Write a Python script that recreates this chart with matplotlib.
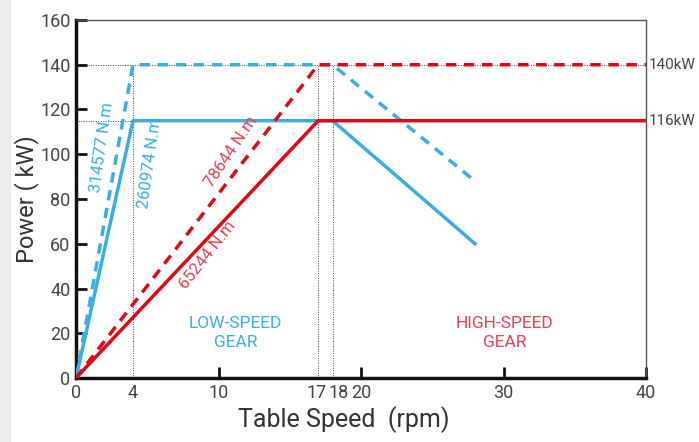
import matplotlib.pyplot as plt
import matplotlib.transforms as mtransforms
from matplotlib.patches import Rectangle

plt.rcParams['font.family'] = ['Roboto', 'DejaVu Sans']

# data
low_solid_x = [0, 4, 18, 28]
low_solid_y = [0, 115, 115, 60]
low_dash_x = [0, 4, 18, 28]
low_dash_y = [0, 140, 140, 88]
high_solid_x = [0, 17, 40]
high_solid_y = [0, 115, 115]
high_dash_x = [0, 17, 40]
high_dash_y = [0, 140, 140]

xticks = [0, 4, 10, 17, 18, 20, 30, 40]
yticks = [0, 20, 40, 60, 80, 100, 120, 140, 160]

blue = '#3aaee2'
red = '#e30613'
red_txt = '#ea4050'
grey = '#444444'

fig = plt.figure(figsize=(6.99, 4.42), dpi=100)
fig.patches.append(Rectangle((0, 0), 10 / 699, 1, transform=fig.transFigure,
                             color='#ececec', zorder=0))
ax = fig.add_axes([76 / 699, 64 / 442, 570 / 699, 358 / 442])

# guide lines
for xv in [4, 17, 18]:
    ax.plot([xv, xv], [0, 140], color=grey, lw=0.7, ls=(0, (1, 1.5)), zorder=1)
ax.plot([0, 40], [140, 140], color=grey, lw=0.7, ls=(0, (1, 1.5)), zorder=1)
ax.plot([0, 4], [115, 115], color=grey, lw=0.7, ls=(0, (1, 1.5)), zorder=1)

ax.plot(low_dash_x, low_dash_y, color=blue, lw=2.5, ls=(0, (3, 2.2)), zorder=3)
ax.plot(low_solid_x, low_solid_y, color=blue, lw=2.5, zorder=3)
ax.plot(high_dash_x, high_dash_y, color=red, lw=2.5, ls=(0, (3, 2.2)), zorder=4)
ax.plot(high_solid_x, high_solid_y, color=red, lw=2.5, zorder=4)

ax.set_xlim(0, 40)
ax.set_ylim(0, 160)
ax.set_xticks(xticks)
ax.set_yticks(yticks)
ax.tick_params(direction='in', length=8, width=2, colors='#111111',
               labelcolor='#444444', labelsize=13, pad=4)
for i, t in enumerate(ax.xaxis.get_major_ticks()):
    if xticks[i] in (0, 4, 17, 18):
        t.tick1line.set_visible(False)
ax.yaxis.get_major_ticks()[0].tick1line.set_visible(False)

# nudge the 17 / 18 labels apart
for lab, xv in zip(ax.get_xticklabels(), xticks):
    if xv == 18:
        lab.set_transform(lab.get_transform() + mtransforms.ScaledTranslation(6 / 100, 0, fig.dpi_scale_trans))
    if xv == 17:
        lab.set_transform(lab.get_transform() + mtransforms.ScaledTranslation(-2 / 100, 0, fig.dpi_scale_trans))

for s in ['left', 'bottom']:
    ax.spines[s].set_linewidth(2.5)
    ax.spines[s].set_color('#111111')
for s in ['top', 'right']:
    ax.spines[s].set_linewidth(1)
    ax.spines[s].set_color('#555555')

ax.set_xlabel('Table Speed  (rpm)', fontsize=18, color='#333333', va='center')
ax.set_ylabel('Power ( kW)', fontsize=17, color='#333333', va='center')
ax.xaxis.set_label_coords(0.47, -0.117)
ax.yaxis.set_label_coords(-0.086, 0.5)

# right labels
ax.text(40.2, 140, '140kW', fontsize=11, color='#444444', va='center', ha='left', clip_on=False)
ax.text(40.2, 115, '116kW', fontsize=11, color='#444444', va='center', ha='left', clip_on=False)

# torque labels
ax.text(1.8, 103, '314577 N.m', color=blue, fontsize=12, rotation=82, ha='center', va='center')
ax.text(5.2, 96, '260974 N.m', color=blue, fontsize=12, rotation=82, ha='center', va='center')
ax.text(10.9, 101, '78644 N.m', color=red_txt, fontsize=12, rotation=56, ha='center', va='center')
ax.text(9.2, 55, '65244 N.m', color=red_txt, fontsize=12, rotation=52, ha='center', va='center')

ax.text(11.2, 20, 'LOW-SPEED\nGEAR', color=blue, fontsize=12.5, ha='center', va='center',
        linespacing=1.3)
ax.text(30.1, 20, 'HIGH-SPEED\nGEAR', color=red_txt, fontsize=12.5, ha='center', va='center',
        linespacing=1.3)

fig.savefig('out.png', dpi=100)
